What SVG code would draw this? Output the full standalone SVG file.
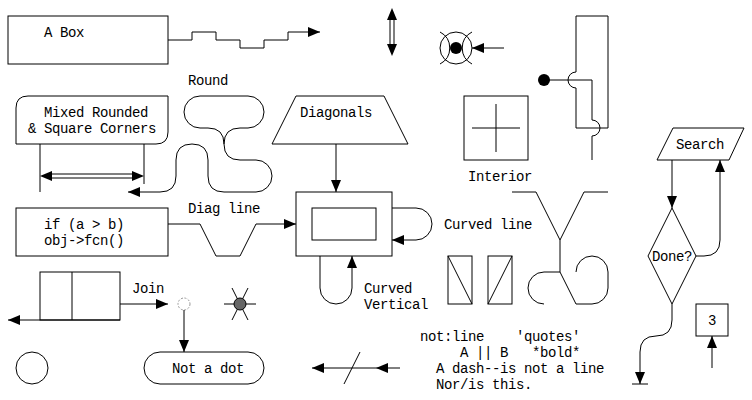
<svg xmlns="http://www.w3.org/2000/svg" xmlns:xlink="http://www.w3.org/1999/xlink" width="752" height="400" viewBox="0 0 752 400">
<style>
.l{fill:none;stroke:#000;stroke-width:1}
.t{font-family:"Liberation Mono",monospace;font-size:14px;letter-spacing:-0.4px;fill:#000}
.f{fill:#000}
</style>
<defs>
<path id="ah" d="M0,0 L-12,-5 L-12,5 z" fill="#000"/>
</defs>
<rect width="752" height="400" fill="#fff"/>

<g id="abox"><rect class="l" x="8" y="16" width="160" height="48"/><text class="t" x="44" y="37">A Box</text></g>
<g id="mixed"><path class="l" d="M28,96 H168 V132 Q168,144 156,144 H16 V108 Q16,96 28,96 Z"/><text class="t" x="44" y="117">Mixed Rounded</text><text class="t" x="28" y="133">&amp; Square Corners</text></g>
<g id="round-label"><text class="t" x="188" y="85">Round</text></g>
<g id="diagonals"><path class="l" d="M296,96 H384 L408,144 H272 Z"/><text class="t" x="300" y="117">Diagonals</text></g>
<g id="interior"><rect class="l" x="464" y="96" width="64" height="64"/><path class="l" d="M472,128 H520 M496,104 V152"/><text class="t" x="468" y="181">Interior</text></g>
<g id="search"><path class="l" d="M673,128 H744 L729,160 H657 Z"/><text class="t" x="676" y="149">Search</text></g>
<g id="done"><path class="l" d="M672,208 L696,256 L672,304 L648,256 Z"/><text class="t" x="652" y="261">Done?</text></g>
<g id="ifbox"><rect class="l" x="16" y="208" width="152" height="48"/><text class="t" x="44" y="229">if (a &gt; b)</text><text class="t" x="44" y="245">obj-&gt;fcn()</text></g>
<g id="outer"><rect class="l" x="296" y="192" width="96" height="64"/><rect class="l" x="312" y="208" width="64" height="32"/></g>
<g id="join"><rect class="l" x="40" y="272" width="80" height="48"/><path class="l" d="M72,272 V320"/><text class="t" x="132" y="293">Join</text></g>
<g id="notadot"><rect class="l" x="144" y="352" width="120" height="32" rx="16" ry="16"/><text class="t" x="172" y="373">Not a dot</text></g>
<g id="circle"><circle class="l" cx="32" cy="368" r="16"/></g>
<g id="box3"><rect class="l" x="696" y="304" width="32" height="32"/><text class="t" x="708" y="325">3</text></g>
<g id="diagboxes"><rect class="l" x="448" y="256" width="24" height="48"/><path class="l" d="M448,256 L472,304"/><rect class="l" x="488" y="256" width="24" height="48"/><path class="l" d="M488,304 L512,256"/></g>
<g id="xcircle"><circle class="l" cx="456" cy="48" r="16"/><path class="l" d="M440,32 A18,18 0 0 1 440,64 M472,32 A18,18 0 0 0 472,64"/><circle class="f" cx="456" cy="48" r="6"/></g>
<g id="opendot"><circle cx="184" cy="304" r="6" fill="#fff" stroke="#999" stroke-width="1" stroke-dasharray="2 1.5"/></g>
<g id="sun"><path class="l" d="M224,304 H256 M232,288 L248,320 M248,288 L232,320"/><circle cx="240" cy="304" r="6" fill="#666" stroke="#000" stroke-width="1"/></g>
<g id="labels">
<text class="t" x="188" y="213">Diag line</text>
<text class="t" x="444" y="229">Curved line</text>
<text class="t" x="364" y="293">Curved</text>
<text class="t" x="364" y="309">Vertical</text>
<text class="t" x="420" y="341">not:line</text>
<text class="t" x="516" y="341">'quotes'</text>
<text class="t" x="460" y="357">A || B</text>
<text class="t" x="532" y="357">*bold*</text>
<text class="t" x="436" y="373">A dash--is not a line</text>
<text class="t" x="436" y="389">Nor/is this.</text>
</g>

<g id="connectors">
<path class="l" d="M168,40 H192 V32 H216 V40 H240 V48 H264 V40 H288 V32 H320"/>
<use xlink:href="#ah" transform="translate(320,32)"/>
<path class="l" d="M390,18 V46 M394,18 V46"/>
<use xlink:href="#ah" transform="translate(392,8) rotate(-90)"/>
<use xlink:href="#ah" transform="translate(392,56) rotate(90)"/>
<path class="l" d="M504,48 H472"/>
<use xlink:href="#ah" transform="translate(472,48) rotate(180)"/>
<path class="l" d="M576,72 V16 H608 V128 H576 V88 M576,72 A8,8 0 0 0 576,88"/>
<circle class="f" cx="544" cy="80" r="6"/>
<path class="l" d="M544,80 H592 V120 A8,8 0 0 1 592,136 V160"/>
<path class="l" d="M40,144 V192 M144,144 V184 M50,174 H134 M50,178 H134"/>
<use xlink:href="#ah" transform="translate(40,176) rotate(180)"/>
<use xlink:href="#ah" transform="translate(144,176)"/>
<path class="l" d="M128,192 H160 Q176,192 176,176 V160 Q176,144 192,144 Q208,144 208,160 V176 Q208,192 224,192 H256 A16,16 0 0 0 256,160 H240 Q224,160 224,144 Q224,128 240,128 H248 A16,16 0 0 0 248,96 H200 A16,16 0 0 0 200,128 H208 Q224,128 224,144"/>
<use xlink:href="#ah" transform="translate(128,192) rotate(180)"/>
<path class="l" d="M336,144 V192"/>
<use xlink:href="#ah" transform="translate(336,192) rotate(90)"/>
<path class="l" d="M168,224 H200 L216,256 H240 L256,224 H296"/>
<use xlink:href="#ah" transform="translate(296,224)"/>
<path class="l" d="M392,208 H416 A16,16 0 0 1 416,240 H392"/>
<use xlink:href="#ah" transform="translate(392,240) rotate(180)"/>
<path class="l" d="M320,256 V288 A16,16 0 0 0 352,288 V256"/>
<use xlink:href="#ah" transform="translate(352,256) rotate(-90)"/>
<path class="l" d="M512,192 H536 L560,240 L584,192 H608 M560,240 V272 H544 A16,16 0 0 0 544,304 M560,272 L576,304 H592 A16,16 0 0 0 608,288 V272 A16,16 0 0 0 576,272"/>
<path class="l" d="M672,160 V208"/>
<use xlink:href="#ah" transform="translate(672,208) rotate(90)"/>
<path class="l" d="M696,256 H704 Q720,256 720,240 V160"/>
<use xlink:href="#ah" transform="translate(720,160) rotate(-90)"/>
<path class="l" d="M672,304 V320 Q672,336 656,336 Q640,336 640,352 V384 M632,384 H648"/>
<use xlink:href="#ah" transform="translate(640,384) rotate(90)"/>
<path class="l" d="M712,368 V336"/>
<use xlink:href="#ah" transform="translate(712,336) rotate(-90)"/>
<path class="l" d="M120,304 H168 M120,320 H8"/>
<use xlink:href="#ah" transform="translate(168,304)"/>
<use xlink:href="#ah" transform="translate(8,320) rotate(180)"/>
<path class="l" d="M184,310 V352"/>
<use xlink:href="#ah" transform="translate(184,352) rotate(90)"/>
<path class="l" d="M400,368 H312 M360,352 L344,384"/>
<use xlink:href="#ah" transform="translate(312,368) rotate(180)"/>
<use xlink:href="#ah" transform="translate(376,368) rotate(180)"/>
</g>
</svg>
